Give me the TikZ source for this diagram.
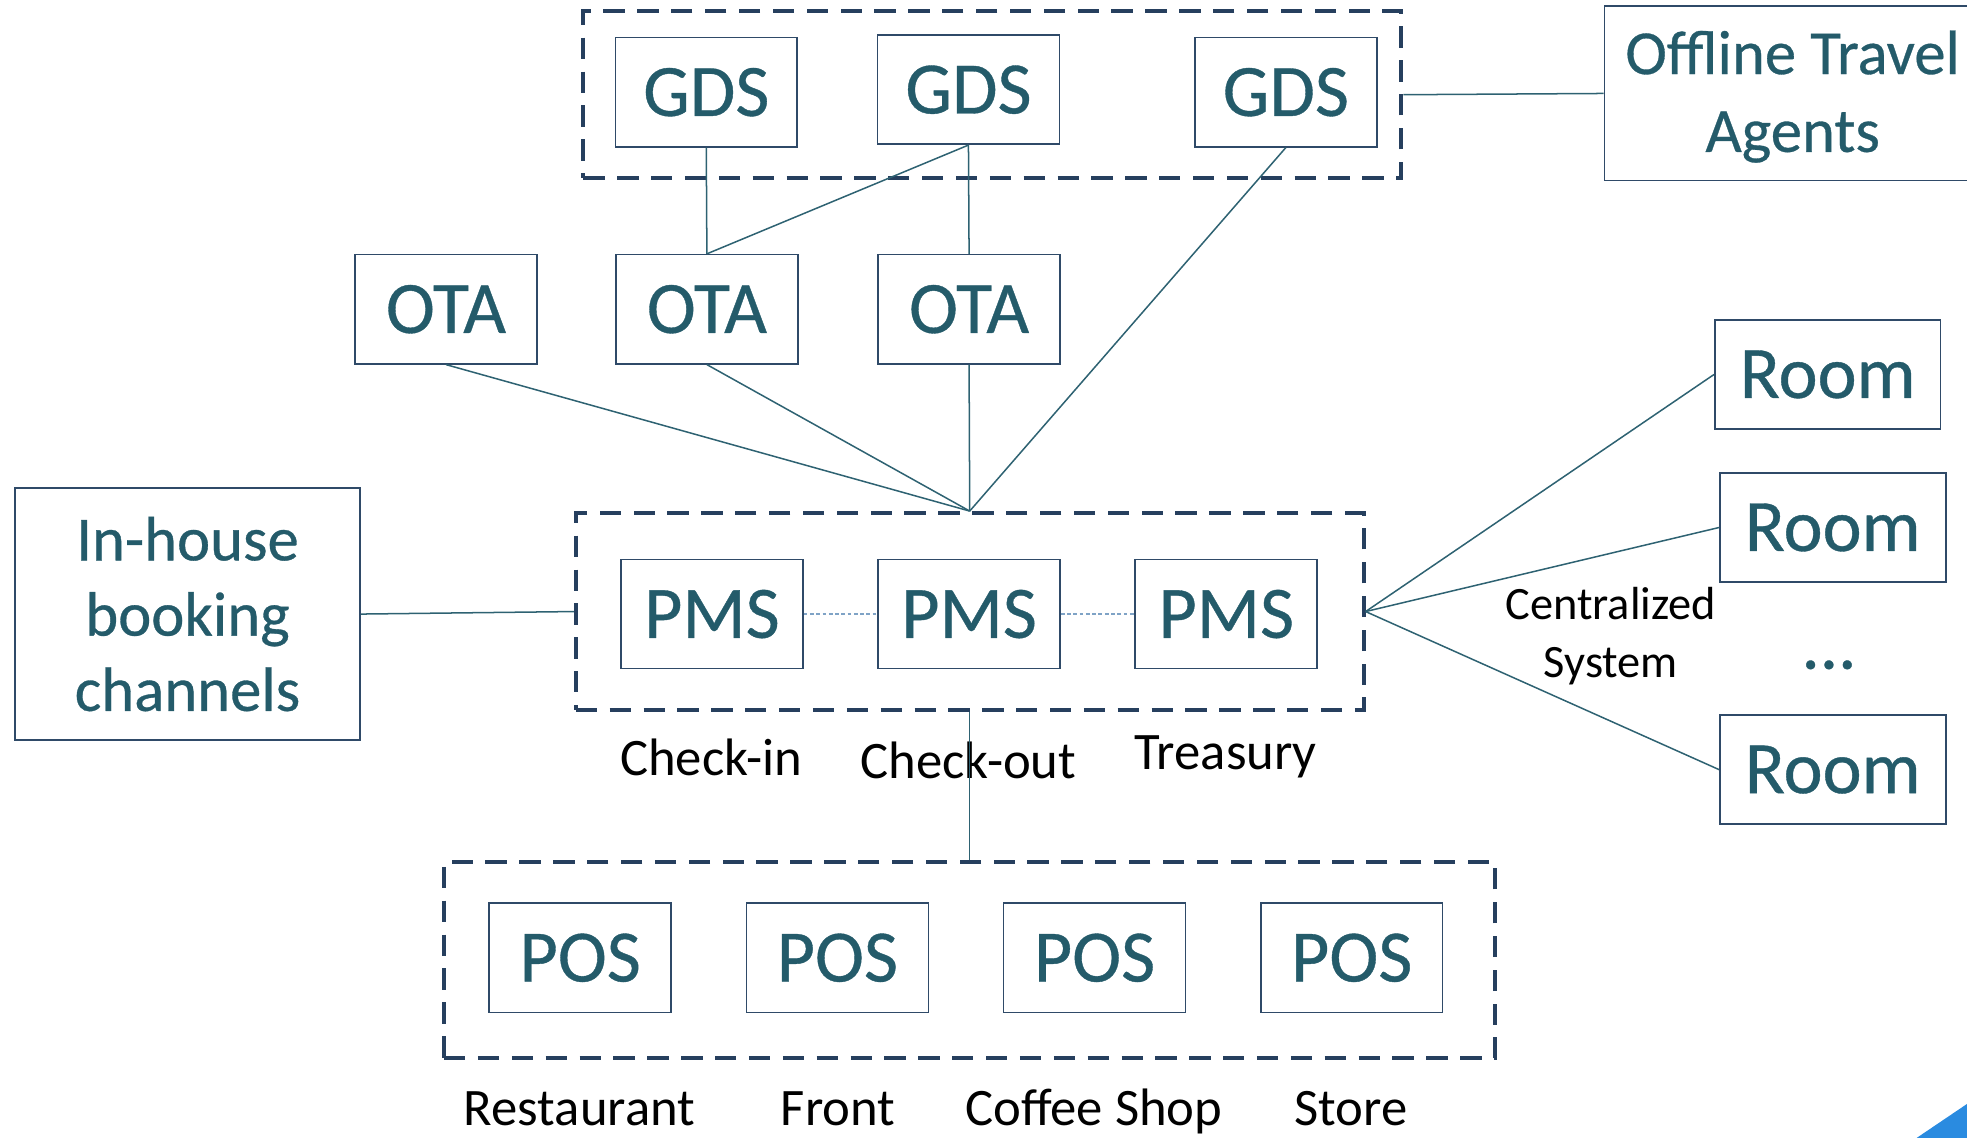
\documentclass[tikz,border=0pt]{standalone}
\usepackage{fontspec}
\setmainfont{Carlito}
\newfontfamily\heavy{Carlito}[FakeBold=0.5]
\definecolor{txt}{HTML}{245B6A}
\definecolor{bord}{HTML}{2F4A68}
\definecolor{grp}{HTML}{263F5E}
\definecolor{conn}{HTML}{2E6272}
\definecolor{dotc}{HTML}{7FA3C6}
\definecolor{slideblue}{HTML}{2A8BE0}
\tikzset{
  box/.style={draw=bord, line width=1.3pt, rectangle, minimum width=145pt, minimum height=87pt,
    inner sep=0pt, text=txt, font=\heavy\fontsize{59}{60}\selectfont},
  roombox/.style={box, minimum width=180pt},
  bigbox/.style={draw=bord, line width=1.3pt, rectangle, inner sep=0pt, text=txt, align=center},
  group/.style={draw=grp, line width=3.2pt, dash pattern=on 17pt off 10pt, rectangle, inner sep=0pt},
  conn/.style={draw=conn, line width=1.2pt},
  dotconn/.style={draw=dotc, line width=1.2pt, dash pattern=on 3pt off 2pt},
  lbl/.style={text=black, font=\fontsize{42}{44}\selectfont, inner sep=0pt},
}
\begin{document}
\begin{tikzpicture}[x=1pt,y=-1pt]
\useasboundingbox (0,0) rectangle (1568,907);
\clip (0,0) rectangle (1568,907);
% groups
\node[group, minimum width=652pt, minimum height=133pt] (gdsg) at (791,75.5) {};
\node[group, minimum width=628pt, minimum height=157pt] (pmsg) at (773,487.5) {};
\node[group, minimum width=838pt, minimum height=156pt] (posg) at (773,765) {};
% GDS
\node[box] (gds1) at (563,73.5) {GDS};
\node[box] (gds2) at (772,71.5) {GDS};
\node[box] (gds3) at (1025,73.5) {GDS};
% Offline
\node[bigbox, minimum width=320pt, minimum height=139pt] (offline) at (1439,74.5) {};
\node[text=txt, font=\heavy\fontsize{50}{62}\selectfont, align=center, inner sep=0pt] (offt) at (1429,77) {Offline Travel\\Agents};
% OTA
\node[box] (ota1) at (355.5,246.5) {OTA};
\node[box] (ota2) at (563.5,246.5) {OTA};
\node[box] (ota3) at (772.5,246.5) {OTA};
% PMS
\node[box] (pms1) at (567.5,489.5) {PMS};
\node[box] (pms2) at (772.5,489.5) {PMS};
\node[box] (pms3) at (977.5,489.5) {PMS};
% In-house
\node[bigbox, minimum width=275pt, minimum height=201pt, font=\heavy\fontsize{50}{60}\selectfont] (inhouse) at (149.5,489.5) {In-house\\booking\\channels};
% Rooms
\node[roombox] (room1) at (1457,298.5) {Room};
\node[roombox] (room2) at (1461,420.5) {Room};
\node[roombox] (room3) at (1461,613.5) {Room};
\node[text=txt, font=\heavy\fontsize{58}{60}\selectfont, inner sep=0pt] (dots) at (1458,530) {...};
% POS
\node[box] (pos1) at (462.5,763.5) {POS};
\node[box] (pos2) at (667.5,763.5) {POS};
\node[box] (pos3) at (872.5,763.5) {POS};
\node[box] (pos4) at (1077.5,763.5) {POS};
% labels
\node[lbl] (lci) at (567,604) {Check-in};
\node[lbl] (lco) at (772,606) {Check-out};
\node[lbl] (ltr) at (977,603) {Treasury};
\node[lbl, font=\fontsize{37}{46}\selectfont, align=center] (lcs) at (1284,507) {Centralized\\System};
\node[lbl] (lre) at (462,884) {Restaurant};
\node[lbl] (lfr) at (668,884) {Front};
\node[lbl] (lcf) at (872,886) {Coffee Shop};
\node[lbl] (lst) at (1077,884) {Store};
% connectors
\draw[conn] (gdsg.east) -- (offline.west);
\draw[conn] (gds1.south) -- (ota2.north);
\draw[conn] (gds2.south) -- (ota2.north);
\draw[conn] (gds2.south) -- (ota3.north);
\draw[conn] (gds3.south) -- (pmsg.north);
\draw[conn] (ota1.south) -- (pmsg.north);
\draw[conn] (ota2.south) -- (pmsg.north);
\draw[conn] (ota3.south) -- (pmsg.north);
\draw[conn] (inhouse.east) -- (pmsg.west);
\draw[dotconn] (pms1.east) -- (pms2.west);
\draw[dotconn] (pms2.east) -- (pms3.west);
\draw[conn] (pmsg.east) -- (room1.west);
\draw[conn] (pmsg.east) -- (room2.west);
\draw[conn] (pmsg.east) -- (room3.west);
\draw[conn] (pmsg.south) -- (posg.north);
% slide corner decoration
\fill[slideblue] (1528,907) -- (1568,880) -- (1568,907) -- cycle;
\end{tikzpicture}
\end{document}
